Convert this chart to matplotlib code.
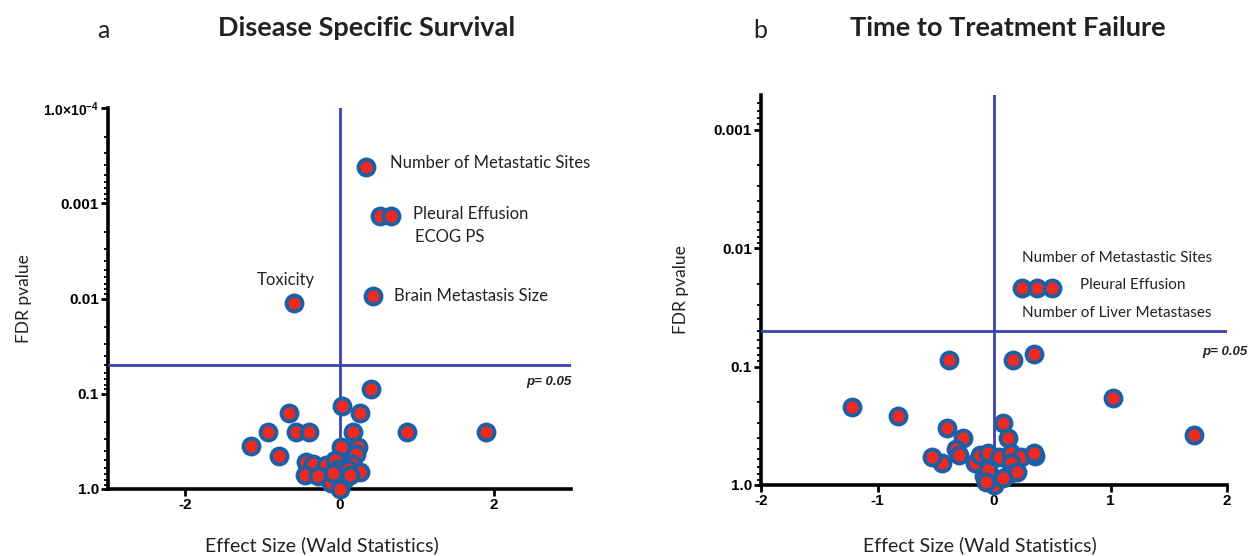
import matplotlib
matplotlib.use("Agg")
import matplotlib.pyplot as plt
from matplotlib.ticker import LogLocator, FixedLocator, NullFormatter

plt.rcParams["mathtext.fontset"] = "custom"
plt.rcParams["mathtext.rm"] = "Liberation Sans:bold"
plt.rcParams["mathtext.bf"] = "Liberation Sans:bold"

# ---------------- data ----------------
dss_effect = [0.34, 0.53, 0.67, 0.44, -0.59, 0.41, 0.03, 0.27, -0.65, -0.93, -0.56, -0.40,
              0.18, 0.88, 1.90, -1.15, 0.02, 0.24, -0.79, 0.22, -0.43, -0.34, -0.17, 0.03,
              0.16, -0.06, -0.02, 0.11, 0.26, -0.45, -0.28, -0.11, 0.06, 0.0, 0.13, -0.09]
dss_p = [4.2e-4, 1.35e-3, 1.35e-3, 9.5e-3, 0.0112, 0.09, 0.135, 0.16, 0.158, 0.25, 0.25, 0.25,
         0.25, 0.25, 0.25, 0.35, 0.36, 0.36, 0.45, 0.43, 0.52, 0.55, 0.56, 0.54,
         0.54, 0.50, 0.61, 0.61, 0.66, 0.71, 0.73, 0.87, 0.80, 1.0, 0.71, 0.68]

ttf_effect = [0.24, 0.37, 0.50, -0.39, 0.16, 0.34, 1.02, -1.22, -0.82, 1.72, 0.08, -0.40,
              -0.27, 0.12, -0.33, -0.30, -0.45, -0.16, -0.12, -0.05, 0.04, 0.15, 0.23, 0.35,
              0.34, 0.15, 0.13, 0.20, -0.09, -0.05, 0.0, 0.08, -0.07, -0.53]
ttf_p = [0.0216, 0.0216, 0.0216, 0.0885, 0.0885, 0.078, 0.186, 0.22, 0.26, 0.38, 0.30, 0.33,
         0.40, 0.40, 0.50, 0.56, 0.65, 0.65, 0.56, 0.54, 0.58, 0.54, 0.58, 0.57,
         0.54, 0.65, 0.80, 0.77, 0.84, 0.75, 1.0, 0.88, 0.94, 0.58]

dss_yticks = [1e-4, 1e-3, 1e-2, 1e-1, 1.0]
dss_yticklabels = [r"$1.0{\times}10^{-4}$", "0.001", "0.01", "0.1", "1.0"]
ttf_yticks = [1e-3, 1e-2, 1e-1, 1.0]
ttf_yticklabels = ["0.001", "0.01", "0.1", "1.0"]
dss_xticks = [-2, 0, 2]
ttf_xticks = [-2, -1, 0, 1, 2]
threshold = 0.05

dss_labels = [("Number of Metastatic Sites", 0.65, 3.8e-4, "left"),
              ("Pleural Effusion", 0.95, 1.3e-3, "left"),
              ("ECOG PS", 0.98, 2.27e-3, "left"),
              ("Toxicity", -0.70, 6.4e-3, "center"),
              ("Brain Metastasis Size", 0.71, 9.4e-3, "left")]
ttf_labels = [("Number of Metastastic Sites", 0.24, 0.01224, "left"),
              ("Pleural Effusion", 0.74, 0.0203, "left"),
              ("Number of Liver Metastases", 0.24, 0.0356, "left")]

# ---------------- style ----------------
W, H = 1252, 556
fig = plt.figure(figsize=(W / 100, H / 100), dpi=100)
fig.patch.set_facecolor("white")

LINE_BLUE = "#3b41b2"
EDGE_BLUE = "#1d5fa6"
FILL_RED = "#ec2a22"
TXT = "#222222"
LABEL_FONT = "Lato"
TICK_FONT = "Liberation Sans"


def px_axes(x0, y_top, x1, y_bot):
    return fig.add_axes([x0 / W, (H - y_bot) / H, (x1 - x0) / W, (y_bot - y_top) / H])


def style_axes(ax, xlim, ylim, xticks, yticks, yticklabels):
    ax.set_yscale("log")
    ax.set_xlim(*xlim)
    ax.set_ylim(*ylim)
    for s in ("top", "right"):
        ax.spines[s].set_visible(False)
    for s in ("left", "bottom"):
        ax.spines[s].set_linewidth(2.6)
        ax.spines[s].set_color("black")
    ax.yaxis.set_major_locator(FixedLocator(yticks))
    ax.set_yticklabels(yticklabels)
    ax.yaxis.set_minor_locator(LogLocator(base=10, subs=range(2, 10), numticks=20))
    ax.yaxis.set_minor_formatter(NullFormatter())
    ax.set_xticks(xticks)
    ax.set_xticklabels([str(t) for t in xticks])
    ax.tick_params(axis="both", which="major", direction="out", length=5, width=2,
                   labelsize=11, pad=1.5, colors="black")
    ax.tick_params(axis="y", which="minor", direction="out", length=3, width=1.3)
    for lab in ax.get_xticklabels() + ax.get_yticklabels():
        lab.set_fontweight("bold")
        lab.set_fontfamily(TICK_FONT)
    ax.set_xlabel("Effect Size (Wald Statistics)", fontsize=14, family=LABEL_FONT,
                  color=TXT, labelpad=19)
    ax.set_ylabel("FDR pvalue", fontsize=12.5, family=LABEL_FONT, color=TXT)
    ax.set_facecolor("white")


def draw_points(ax, xs, ps):
    ax.plot(xs, ps, linestyle="none", marker="o", markersize=11.5,
            markerfacecolor=FILL_RED, markeredgecolor=EDGE_BLUE, markeredgewidth=2.8,
            zorder=5, clip_on=False)


# ---------------- panel a ----------------
ax1 = px_axes(108, 108, 571, 489)
style_axes(ax1, (-3, 3), (1.0, 1e-4), dss_xticks, dss_yticks, dss_yticklabels)
ax1.get_yticklabels()[0].set_fontsize(10)
ax1.yaxis.set_label_coords(-0.165, 0.5)
ax1.xaxis.set_label_coords(0.462, -0.147)
ax1.xaxis.label.set_va("center")
ax1.axhline(threshold, color=LINE_BLUE, lw=2, zorder=3)
ax1.axvline(0, color=LINE_BLUE, lw=2, zorder=3)
draw_points(ax1, dss_effect, dss_p)
for txt, x, y, ha in dss_labels:
    ax1.text(x, y, txt, ha=ha, va="center", fontsize=12, family=LABEL_FONT, color=TXT)
ax1.text(2.42, 0.075, "p= 0.05", ha="left", va="center", fontsize=9.5, family=TICK_FONT,
         fontweight="bold", fontstyle="italic", color=TXT, clip_on=False)

# ---------------- panel b ----------------
ax2 = px_axes(761, 95, 1227, 485)
style_axes(ax2, (-2, 2), (1.0, 5.1e-4), ttf_xticks, ttf_yticks, ttf_yticklabels)
ax2.yaxis.set_label_coords(-0.155, 0.5)
ax2.xaxis.set_label_coords(0.47, -0.154)
ax2.xaxis.label.set_va("center")
ax2.axhline(threshold, color=LINE_BLUE, lw=2, zorder=3)
ax2.axvline(0, color=LINE_BLUE, lw=2, zorder=3)
draw_points(ax2, ttf_effect, ttf_p)
for txt, x, y, ha in ttf_labels:
    ax2.text(x, y, txt, ha=ha, va="center", fontsize=11, family=LABEL_FONT, color=TXT)
ax2.text(1.79, 0.0758, "p= 0.05", ha="left", va="center", fontsize=9.5, family=TICK_FONT,
         fontweight="bold", fontstyle="italic", color=TXT, clip_on=False)

# ---------------- titles ----------------
fig.text(103 / W, 1 - 30 / H, "a", ha="center", va="center", fontsize=18, family=LABEL_FONT, color=TXT)
fig.text(367 / W, 1 - 28 / H, "Disease Specific Survival", ha="center", va="center",
         fontsize=19.5, family=LABEL_FONT, fontweight="bold", color=TXT)
fig.text(760 / W, 1 - 30 / H, "b", ha="center", va="center", fontsize=18, family=LABEL_FONT, color=TXT)
fig.text(1008 / W, 1 - 28 / H, "Time to Treatment Failure", ha="center", va="center",
         fontsize=19.5, family=LABEL_FONT, fontweight="bold", color=TXT)

fig.savefig("out.png", dpi=100, facecolor="white")
